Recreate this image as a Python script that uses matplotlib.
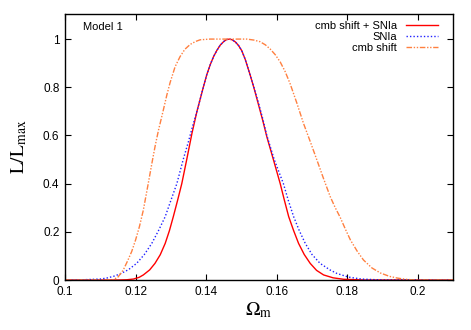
import matplotlib
matplotlib.use("Agg")
import matplotlib.pyplot as plt
from matplotlib.ticker import FixedLocator, FixedFormatter

# values
omega_both = [0.1000, 0.1150, 0.1175, 0.1194, 0.1210, 0.1222, 0.1240, 0.1255, 0.1270,
              0.1284, 0.1296, 0.1307, 0.1319, 0.1331, 0.1345, 0.1360, 0.1374, 0.1383,
              0.1392, 0.1402, 0.1412, 0.1421, 0.1430, 0.1440, 0.1450, 0.1458, 0.1466,
              0.1474, 0.1483, 0.1492, 0.1501, 0.1511, 0.1525, 0.1536, 0.1548, 0.1560,
              0.1572, 0.1591, 0.1610, 0.1622, 0.1634, 0.1648, 0.1662, 0.1678, 0.1695,
              0.1713, 0.1733, 0.1760, 0.1790, 0.1850, 0.2100]
like_both = [0.0, 0.0, 0.001, 0.004, 0.011, 0.021, 0.042, 0.069, 0.105,
             0.152, 0.205, 0.263, 0.330, 0.40, 0.50, 0.61, 0.70, 0.75,
             0.80, 0.853, 0.895, 0.927, 0.952, 0.975, 0.99, 0.998, 1.0,
             0.997, 0.988, 0.973, 0.952, 0.915, 0.85, 0.795, 0.73, 0.665,
             0.595, 0.498, 0.40, 0.33, 0.263, 0.205, 0.152, 0.106, 0.069,
             0.040, 0.021, 0.009, 0.003, 0.0, 0.0]

omega_snia = [0.1000, 0.1050, 0.1100, 0.1118, 0.1137, 0.1156, 0.1180, 0.1203, 0.1225,
              0.1246, 0.1265, 0.1284, 0.1300, 0.1317, 0.1335, 0.1350, 0.1362, 0.1374,
              0.1383, 0.1392, 0.1402, 0.1412, 0.1421, 0.1430, 0.1440, 0.1450, 0.1458,
              0.1466, 0.1474, 0.1483, 0.1492, 0.1501, 0.1511, 0.1525, 0.1536, 0.1548,
              0.1560, 0.1572, 0.1593, 0.1619, 0.1633, 0.1648, 0.1664, 0.1681, 0.1700,
              0.1723, 0.1752, 0.1771, 0.1804, 0.1840, 0.1900, 0.2100]
like_snia = [0.0, 0.001, 0.004, 0.008, 0.015, 0.025, 0.043, 0.069, 0.106,
             0.152, 0.205, 0.263, 0.330, 0.40, 0.50, 0.575, 0.64, 0.70,
             0.75, 0.80, 0.853, 0.895, 0.927, 0.952, 0.975, 0.99, 0.998,
             1.0, 0.997, 0.988, 0.973, 0.952, 0.915, 0.85, 0.797, 0.737,
             0.672, 0.60, 0.50, 0.40, 0.33, 0.263, 0.205, 0.152, 0.106,
             0.069, 0.041, 0.027, 0.012, 0.004, 0.0, 0.0]

omega_cmb = [0.1000, 0.1135, 0.1150, 0.1165, 0.1177, 0.1189, 0.1200, 0.1211, 0.1222,
             0.1234, 0.1247, 0.1256, 0.1265, 0.1277, 0.1289, 0.1298, 0.1312, 0.1326,
             0.1340, 0.1355, 0.1370, 0.1383, 0.1411, 0.1460, 0.1515, 0.1535, 0.1553,
             0.1568, 0.1582, 0.1596, 0.1610, 0.1624, 0.1638, 0.1657, 0.1676, 0.1695,
             0.1714, 0.1733, 0.1752, 0.1766, 0.1780, 0.1795, 0.1809, 0.1828, 0.1846,
             0.1870, 0.1894, 0.1920, 0.1942, 0.1965, 0.1990, 0.2100]
like_cmb = [0.0, 0.0, 0.012, 0.041, 0.078, 0.118, 0.166, 0.222, 0.29,
            0.385, 0.49, 0.56, 0.622, 0.695, 0.77, 0.82, 0.885, 0.927,
            0.958, 0.978, 0.99, 0.997, 1.0, 1.0, 1.0, 0.996, 0.989,
            0.976, 0.958, 0.935, 0.905, 0.865, 0.815, 0.735, 0.650, 0.575,
            0.498, 0.42, 0.345, 0.30, 0.26, 0.21, 0.166, 0.12, 0.083,
            0.05, 0.029, 0.015, 0.008, 0.003, 0.0, 0.0]

series_labels = ["cmb shift + SNIa", "SNIa", "cmb shift"]
xticks = [0.1, 0.12, 0.14, 0.16, 0.18, 0.2]
xticklabels = ["0.1", "0.12", "0.14", "0.16", "0.18", "0.2"]
yticks = [0, 0.2, 0.4, 0.6, 0.8, 1]
yticklabels = ["0", "0.2", "0.4", "0.6", "0.8", "1"]

plt.rcParams["font.family"] = ["Liberation Sans", "DejaVu Sans"]
plt.rcParams["mathtext.fontset"] = "stix"

fig = plt.figure(figsize=(4.71, 3.30), dpi=100)
ax = fig.add_axes([0.138, 0.1515, 0.824, 0.806])

ax.plot(omega_both, like_both, color="#ff0000", lw=1.0, label=series_labels[0])
ax.plot(omega_snia, like_snia, color="#2020ff", lw=1.0, ls=(0, (1, 1.5)),
        label=series_labels[1])
ax.plot(omega_cmb, like_cmb, color="#ff8040", lw=1.0, ls=(0, (4, 1.2, 1, 1.2, 1, 1.2)),
        label=series_labels[2])

ax.set_xlim(0.1, 0.21)
ax.set_ylim(0, 1.104)
ax.xaxis.set_major_locator(FixedLocator(xticks))
ax.xaxis.set_major_formatter(FixedFormatter(xticklabels))
ax.yaxis.set_major_locator(FixedLocator(yticks))
ax.yaxis.set_major_formatter(FixedFormatter(yticklabels))
ax.tick_params(direction="in", top=True, right=True, length=4, width=0.8,
               labelsize=8.5, pad=4)
for sp in ax.spines.values():
    sp.set_linewidth(1.0)

ax.set_xlabel(r"$\Omega_{\rm m}$", fontsize=14, labelpad=2)
ax.set_ylabel(r"$\mathrm{L/L_{max}}$", fontsize=14, labelpad=10)

ax.text(0.046, 0.951, "Model 1", transform=ax.transAxes, fontsize=8,
        ha="left", va="center")

ax.legend(loc="upper right", frameon=False, markerfirst=False, fontsize=8,
          handlelength=2.9, handletextpad=0.8, labelspacing=0.12,
          borderaxespad=0.2, bbox_to_anchor=(0.978, 1.0))

fig.savefig("out.png", dpi=100)
